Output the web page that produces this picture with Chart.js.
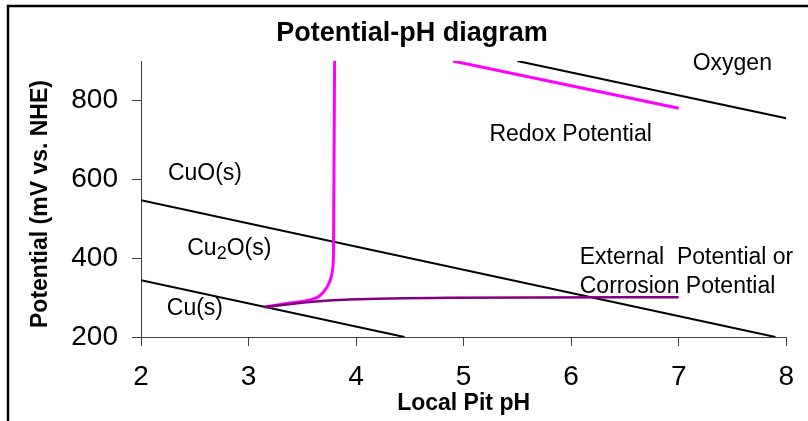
<!DOCTYPE html>
<html>
<head>
<meta charset="utf-8">
<title>Potential-pH diagram</title>
<script src="https://cdn.jsdelivr.net/npm/chart.js@4.4.1/dist/chart.umd.min.js"></script>
<style>
    html, body { margin: 0; padding: 0; background: #fff; }
    #wrap { width: 808px; height: 421px; }
</style>
</head>
<body>
<div id="wrap"><canvas id="pourbaix" width="808" height="421"></canvas></div>
<script>
    // Axis ticks
    const phTicks = [2, 3, 4, 5, 6, 7, 8];
    const mvTicks = [200, 400, 600, 800];

    // Stability boundaries (mV vs. NHE against pH)
    const oxygenPH = [5.5, 8.0];
    const oxygenMV = [900, 755];
    const cuoPH = [2.0, 7.9];
    const cuoMV = [547, 200];
    const cuPH = [2.0, 4.45];
    const cuMV = [344, 200];

    // Redox potential of the bulk solution
    const redoxPH = [4.9, 7.0];
    const redoxMV = [900, 780];

    // Potential inside the pit as the local pH drops
    const pitPH = [3.15, 3.38, 3.57, 3.66, 3.73, 3.765, 3.783, 3.79, 3.80];
    const pitMV = [276, 286, 294, 304, 327, 349, 375, 420, 900];

    // External / corrosion potential
    const corrPH = [3.15, 3.57, 3.94, 4.87, 7.0];
    const corrMV = [276, 289, 295, 299.5, 301];

    // Region and curve names, anchored at [pH, mV] of the text's left baseline
    const labelText = ["Oxygen", "Redox Potential", "CuO(s)", "Cu|2|O(s)", "Cu(s)",
        "External  Potential or", "Corrosion Potential"];
    const labelAt = [[7.13, 876], [5.24, 696], [2.25, 597], [2.43, 408], [2.24, 255],
        [6.08, 384], [6.08, 311]];

    const FONT = "'Liberation Sans', Arial, Helvetica, sans-serif";

    const toPoints = (xs, ys) => xs.map((x, i) => ({x: x, y: ys[i]}));

    function lineSet(label, xs, ys, color, width, smooth) {
        return {
            label: label,
            data: toPoints(xs, ys),
            borderColor: color,
            backgroundColor: color,
            borderWidth: width,
            pointRadius: 0,
            fill: false,
            cubicInterpolationMode: smooth ? 'monotone' : 'default',
            tension: 0
        };
    }

    /**
     * Draw a label; parts between "|" are subscripts.
     */
    function drawLabel(ctx, text, x, y) {
        const parts = text.split("|");
        let cx = x;
        parts.forEach(function (part, i) {
            const sub = i % 2 === 1;
            ctx.font = (sub ? "18px " : "23px ") + FONT;
            ctx.fillText(part, cx, sub ? y + 4 : y);
            cx += ctx.measureText(part).width;
        });
    }

    const textPlugin = {
        id: 'pourbaixText',
        beforeDraw(chart) {
            const ctx = chart.ctx;
            ctx.save();
            ctx.fillStyle = '#fff';
            ctx.fillRect(0, 0, chart.width, chart.height);
            ctx.restore();
        },
        afterDraw(chart) {
            const ctx = chart.ctx;
            const xs = chart.scales.x;
            const ys = chart.scales.y;
            const area = chart.chartArea;
            ctx.save();
            ctx.fillStyle = '#000';
            ctx.textBaseline = 'alphabetic';

            // title
            ctx.textAlign = 'center';
            ctx.font = "bold 27px " + FONT;
            ctx.fillText("Potential-pH diagram", 412, 41);

            // axis titles
            ctx.font = "bold 23px " + FONT;
            ctx.fillText("Local Pit pH", (area.left + area.right) / 2, 410);
            ctx.save();
            ctx.translate(47, 204);
            ctx.rotate(-Math.PI / 2);
            ctx.fillText("Potential (mV vs. NHE)", 0, 0);
            ctx.restore();

            // labels inside the plot
            ctx.textAlign = 'left';
            labelText.forEach(function (t, i) {
                drawLabel(ctx, t, xs.getPixelForValue(labelAt[i][0]), ys.getPixelForValue(labelAt[i][1]));
            });

            // outer frame
            ctx.strokeStyle = '#000';
            ctx.lineWidth = 2.5;
            ctx.beginPath();
            ctx.moveTo(8, chart.height + 2);
            ctx.lineTo(8, 6);
            ctx.lineTo(chart.width + 2, 6);
            ctx.stroke();
            ctx.restore();
        }
    };

    const axisGrid = {
        display: true,
        drawOnChartArea: false,
        drawTicks: true,
        tickLength: 9,
        color: '#404040',
        lineWidth: 1
    };

    new Chart(document.getElementById('pourbaix'), {
        type: 'line',
        data: {
            datasets: [
                lineSet("Corrosion potential", corrPH, corrMV, '#800080', 2.5, true),
                lineSet("Pit potential", pitPH, pitMV, '#ff00ff', 3, true),
                lineSet("Redox potential", redoxPH, redoxMV, '#ff00ff', 3, false),
                lineSet("Oxygen", oxygenPH, oxygenMV, '#000', 2, false),
                lineSet("CuO / Cu2O", cuoPH, cuoMV, '#000', 2, false),
                lineSet("Cu2O / Cu", cuPH, cuMV, '#000', 2, false)
            ]
        },
        options: {
            responsive: false,
            animation: false,
            layout: {padding: {left: 0, right: 21, top: 61, bottom: 0}},
            plugins: {
                legend: {display: false},
                title: {display: false},
                tooltip: {enabled: false}
            },
            scales: {
                x: {
                    type: 'linear',
                    min: 2,
                    max: 8,
                    grid: axisGrid,
                    border: {display: true, color: '#404040', width: 1},
                    afterBuildTicks: (scale) => { scale.ticks = phTicks.map(v => ({value: v})); },
                    afterFit: (scale) => { scale.height = 84; },
                    ticks: {
                        color: '#000',
                        padding: 14,
                        maxRotation: 0,
                        font: {family: FONT, size: 28}
                    }
                },
                y: {
                    type: 'linear',
                    min: 200,
                    max: 900,
                    grid: axisGrid,
                    border: {display: true, color: '#404040', width: 1},
                    afterBuildTicks: (scale) => { scale.ticks = mvTicks.map(v => ({value: v})); },
                    afterFit: (scale) => { scale.width = 141; },
                    ticks: {
                        color: '#000',
                        padding: 14,
                        font: {family: FONT, size: 28}
                    }
                }
            }
        },
        plugins: [textPlugin]
    });
</script>
</body>
</html>
